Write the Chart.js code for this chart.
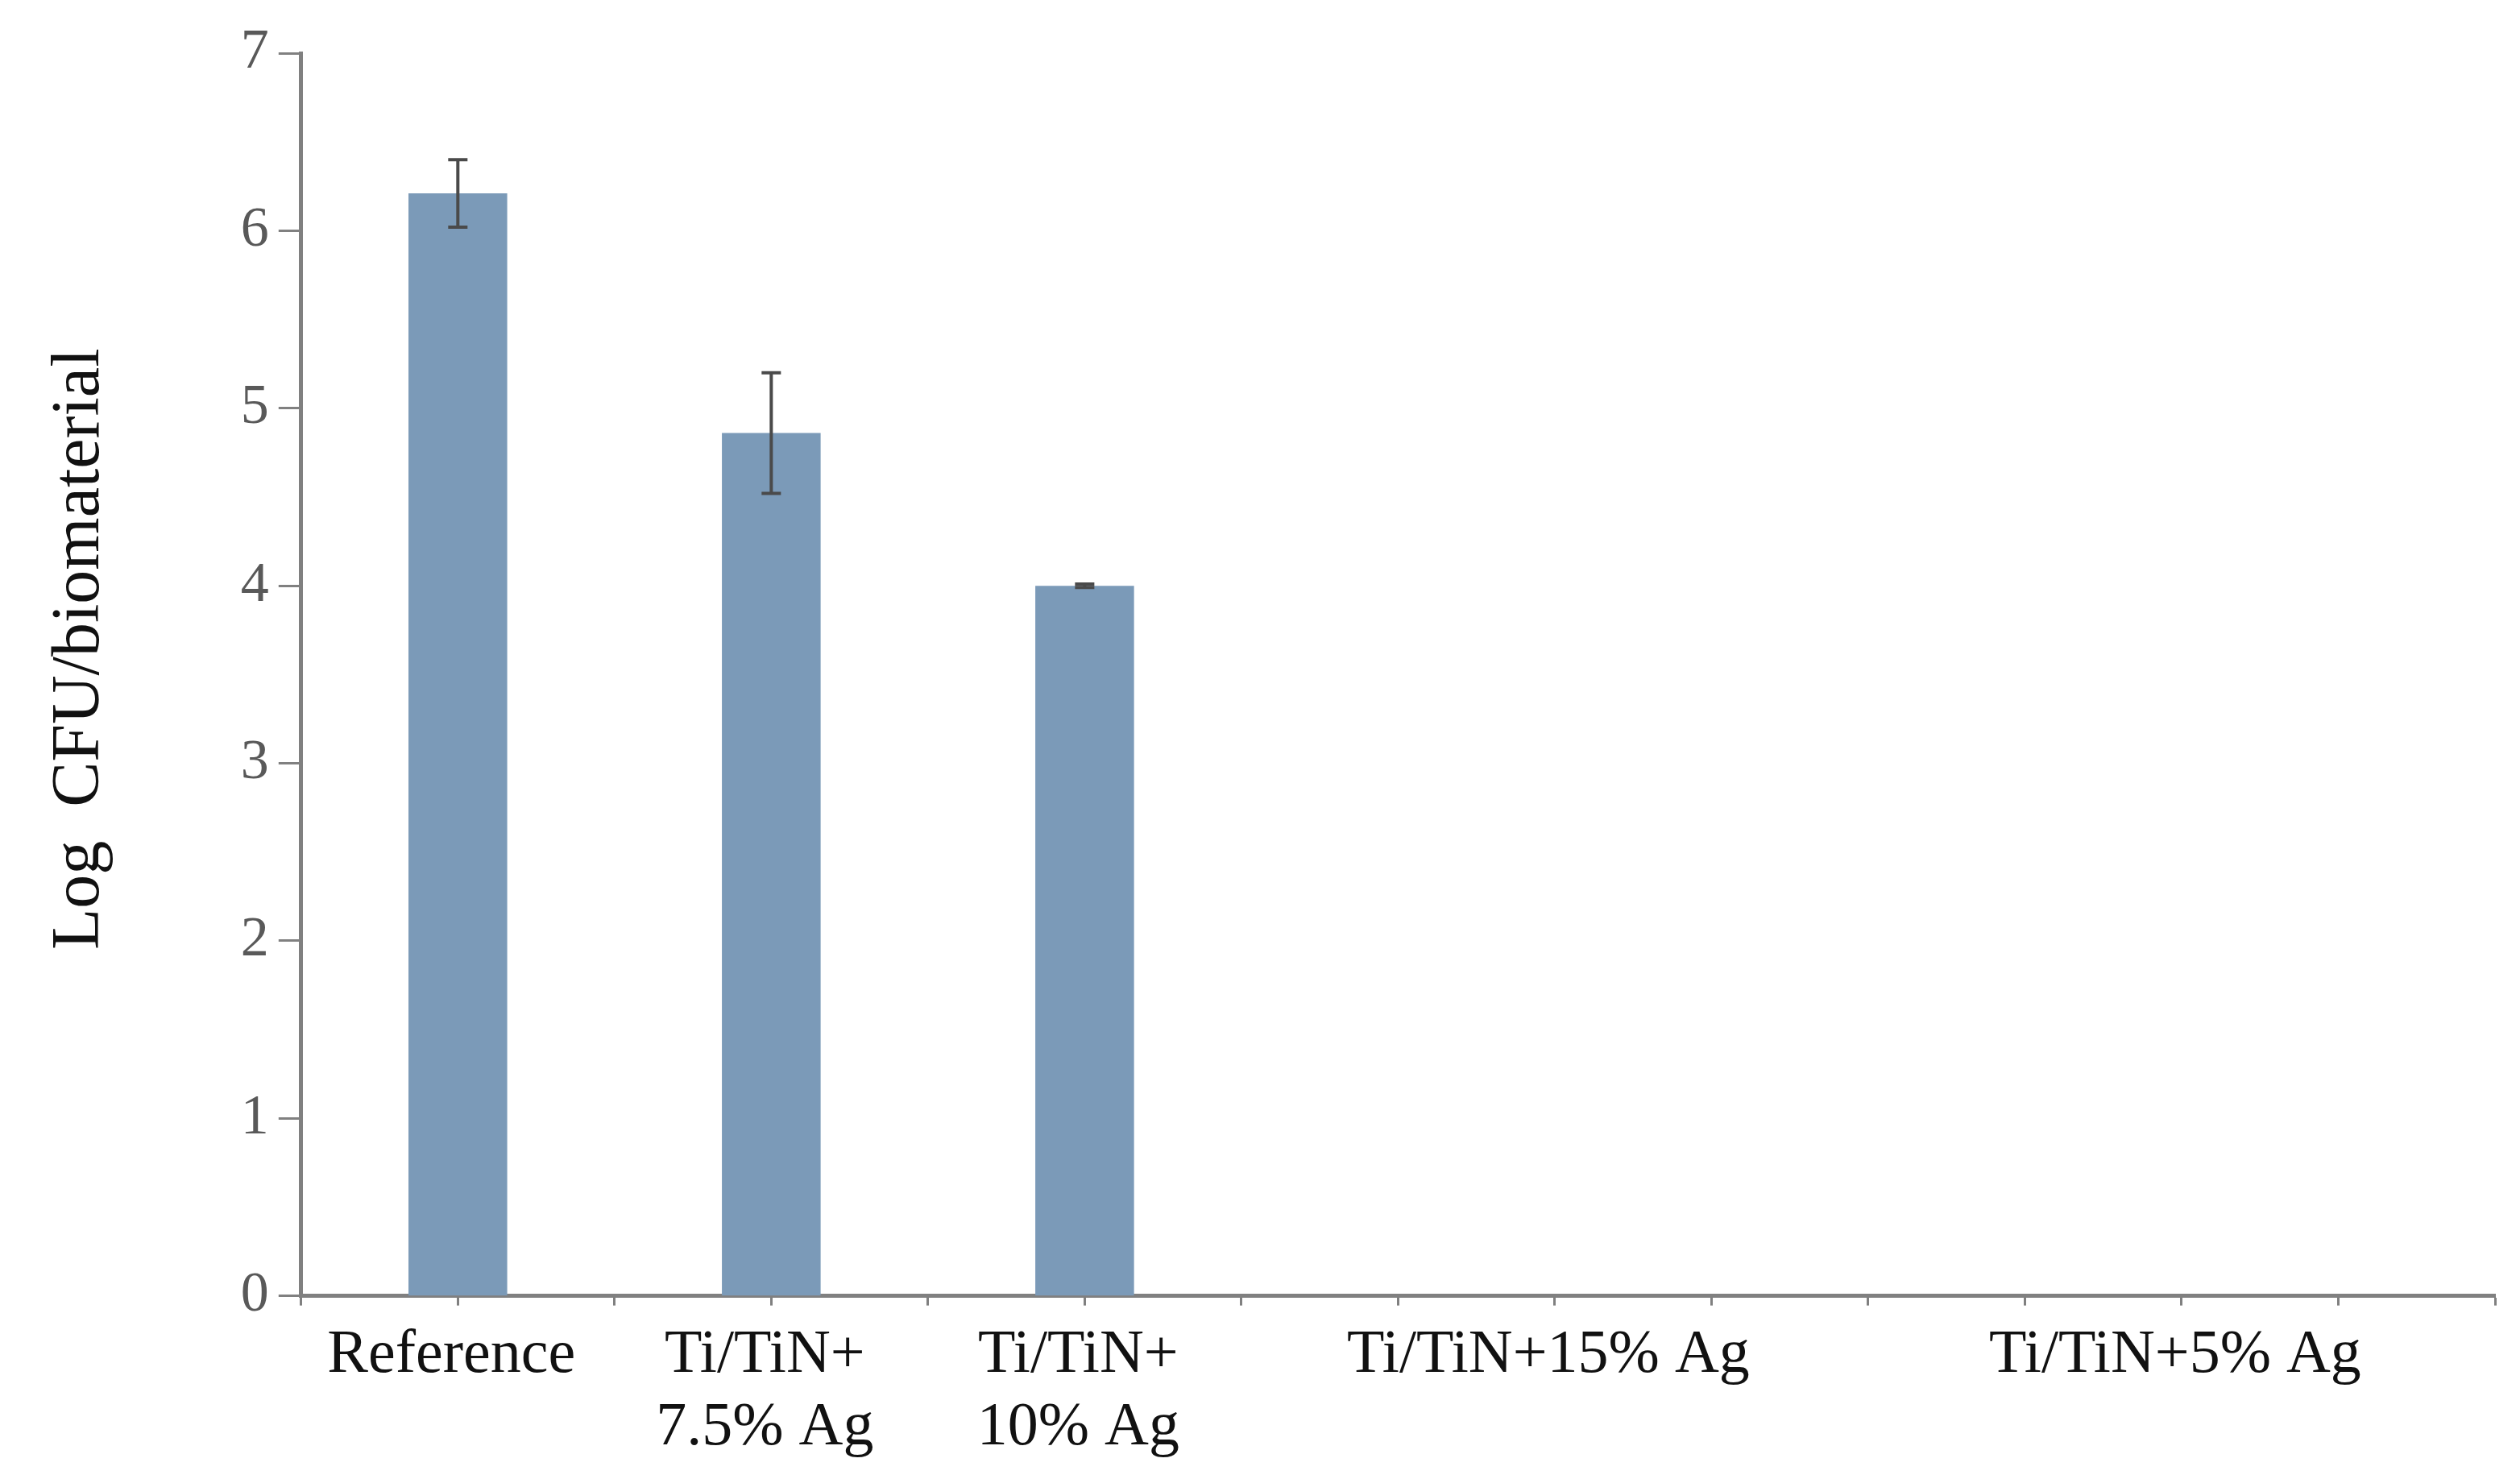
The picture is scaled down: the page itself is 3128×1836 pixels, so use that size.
<!DOCTYPE html>
<html>
<head>
<meta charset="utf-8">
<script src="https://cdn.jsdelivr.net/npm/chart.js@4.4.1/dist/chart.umd.min.js"></script>
<style>
  html, body { margin: 0; padding: 0; background: #fff; }
  #wrap { width: 3128px; height: 1836px; }
</style>
</head>
<body>
<div id="wrap"><canvas id="cfuChart" width="3128" height="1836"></canvas></div>
<script>
// categories and where each sits on the 15-slot axis (0..14)
var categories = ['Reference', ['Ti/TiN+', '7.5% Ag'], ['Ti/TiN+', '10% Ag'], 'Ti/TiN+15% Ag', 'Ti/TiN+5% Ag'];
var slots = [1, 3, 5, 8, 12];
var values = [6.21, 4.86, 4.0, 0, 0];
var errors = [0.19, 0.34, 0.01, 0, 0];
var yTicks = [0, 1, 2, 3, 4, 5, 6, 7];
var slotCount = 15;

// build axis labels and data from the arrays above
var axisLabels = [];
var barData = [];
for (var i = 0; i < slotCount; i++) {
  axisLabels.push('');
  barData.push(null);
}
slots.forEach(function (s, i) {
  axisLabels[s] = categories[i];
  barData[s] = values[i];
});

var serif = '"Liberation Serif", "DejaVu Serif", serif';
var axisGray = '#808080';

// draw error bars using the bar elements / y scale
var errorBars = {
  id: 'errorBars',
  afterDatasetsDraw: function (chart) {
    var ctx = chart.ctx;
    var meta = chart.getDatasetMeta(0);
    var y = chart.scales.y;
    ctx.save();
    ctx.strokeStyle = '#4a4a4a';
    ctx.lineWidth = 4;
    slots.forEach(function (s, i) {
      if (!values[i]) return;
      var bar = meta.data[s];
      var top = y.getPixelForValue(values[i] + errors[i]);
      var bot = y.getPixelForValue(values[i] - errors[i]);
      ctx.beginPath();
      ctx.moveTo(bar.x, top);
      ctx.lineTo(bar.x, bot);
      ctx.moveTo(bar.x - 12, top);
      ctx.lineTo(bar.x + 12, top);
      ctx.moveTo(bar.x - 12, bot);
      ctx.lineTo(bar.x + 12, bot);
      ctx.stroke();
    });
    ctx.restore();
  }
};

var ctx = document.getElementById('cfuChart');
var cfuChart = new Chart(ctx, {
  type: 'bar',
  data: {
    labels: axisLabels,
    datasets: [{
      data: barData,
      backgroundColor: '#7b9ab8',
      borderWidth: 0,
      categoryPercentage: 1,
      barPercentage: 0.63
    }]
  },
  options: {
    responsive: false,
    animation: false,
    layout: { padding: { left: 50, right: 31, top: 66, bottom: 0 } },
    plugins: {
      legend: { display: false },
      tooltip: { enabled: false }
    },
    scales: {
      x: {
        type: 'category',
        offset: false,
        grid: {
          offset: false,
          drawOnChartArea: false,
          tickLength: 12,
          tickColor: axisGray,
          tickWidth: 3
        },
        border: { color: axisGray, width: 5 },
        ticks: {
          autoSkip: false,
          maxRotation: 0,
          minRotation: 0,
          padding: 18,
          labelOffset: -8,
          color: '#111',
          font: { family: serif, size: 76, lineHeight: 1.18 }
        }
      },
      y: {
        min: 0,
        max: 7,
        afterBuildTicks: function (scale) {
          scale.ticks = yTicks.map(function (v) { return { value: v }; });
        },
        grid: {
          drawOnChartArea: false,
          tickLength: 28,
          tickColor: axisGray,
          tickWidth: 3
        },
        border: { color: axisGray, width: 5 },
        ticks: {
          padding: 12,
          color: '#595959',
          font: { family: serif, size: 70 }
        },
        title: {
          display: true,
          text: '   Log  CFU/biomaterial',
          color: '#111',
          font: { family: serif, size: 84 },
          padding: { top: 0, bottom: 136 }
        }
      }
    }
  },
  plugins: [errorBars]
});
</script>
</body>
</html>
